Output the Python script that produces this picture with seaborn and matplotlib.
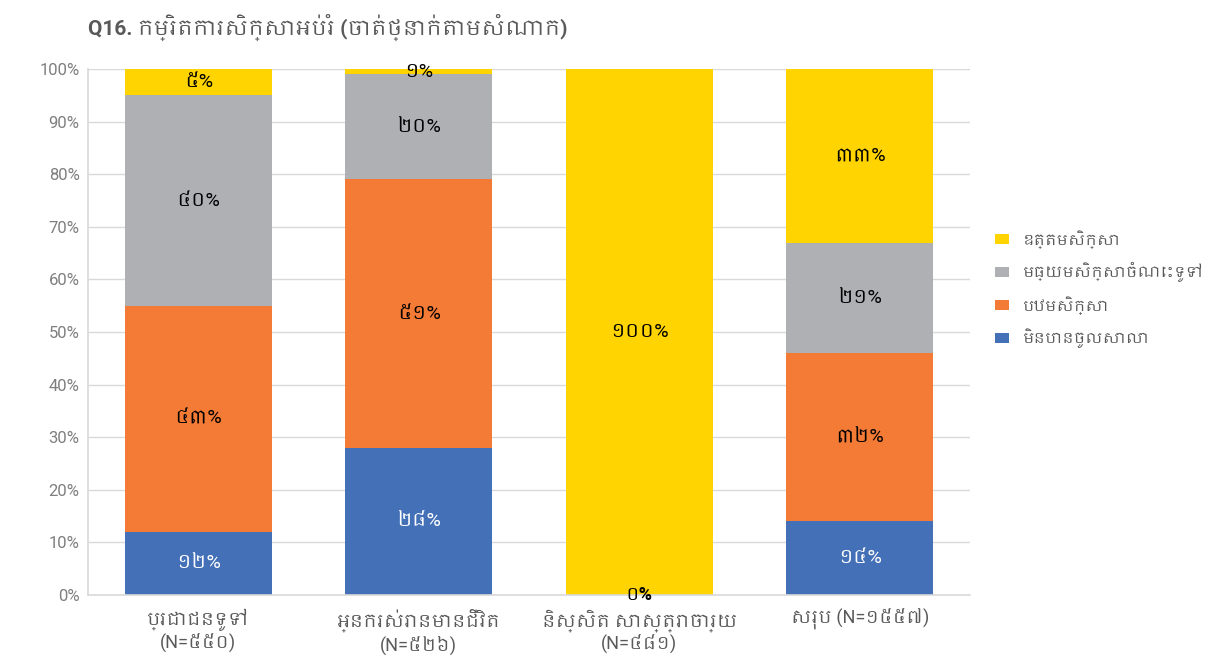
import matplotlib
matplotlib.use("Agg")
import matplotlib.pyplot as plt
from matplotlib import font_manager
from matplotlib.patches import Patch
import seaborn as sns
import pandas as pd
import numpy as np

# ---- data ----
categories = ["ប្រជាជនទូទៅ\n(N=៥៥០)", "អ្នករស់រានមានជីវិត\n(N=៥២៦)",
              "និស្សិត សាស្ត្រាចារ្យ\n(N=៤៨១)", "សរុប (N=១៥៥៧)"]
series_names = ["មិនបានចូលសាលា", "បឋមសិក្សា", "មធ្យមសិក្សាចំណេះទូទៅ", "ឧត្តមសិក្សា"]
no_school = [12, 28, 0, 14]
primary = [43, 51, 0, 32]
secondary = [40, 20, 0, 21]
higher = [5, 1, 100, 33]
colors = ["#4470B8", "#F47B35", "#AEB0B3", "#FFD400"]
label_colors = ["white", "black", "black", "black"]
yticks = [0, 10, 20, 30, 40, 50, 60, 70, 80, 90, 100]
title = "Q16. កម្រិតការសិក្សាអប់រំ (ចាត់ថ្នាក់តាមសំណាក)"

sns.set_theme(style="white")

# fonts
names = {f.name for f in font_manager.fontManager.ttflist}
khmer = [n for n in names if "khmer" in n.lower()]
latin = [n for n in ["Liberation Sans Narrow", "Roboto", "Noto Sans"] if n in names][:1]
fam = latin + sorted(khmer) + ["DejaVu Sans"]
plt.rcParams["font.family"] = fam

KH = str.maketrans("0123456789", "០១២៣៤៥៦៧៨៩")
def kh(v):
    return f"{v}".translate(KH) + "%"

series = [no_school, primary, secondary, higher]

fig = plt.figure(figsize=(12.32, 6.62), dpi=100)
ax = fig.add_axes([88/1232, 1-595/662, (970-88)/1232, (595-69)/662])

cum = np.cumsum(np.array(series), axis=0)
order = list(range(len(series)))[::-1]
for i in order:
    d = pd.DataFrame({"cat": categories, "val": cum[i]})
    sns.barplot(data=d, x="cat", y="val", color=colors[i], width=0.667,
                saturation=1, ax=ax, zorder=2, errorbar=None, linewidth=0)

# labels
for j in range(len(categories)):
    for i, s in enumerate(series):
        v = s[j]
        bottom = cum[i][j] - v
        if v == 0:
            if i == 0 and sum(col[j] for col in series[:3]) == 0:
                ax.text(j, 0, kh(0), ha="center", va="center", fontsize=13,
                        color="black", fontweight="bold", zorder=5)
            continue
        ax.text(j, bottom + v/2, kh(v), ha="center", va="center", fontsize=14,
                color=label_colors[i], zorder=5)

ax.set_ylim(0, 100)
ax.set_xlim(-0.5, 3.5)
ax.set_yticks(yticks)
ax.set_yticklabels([f"{t}%" for t in yticks], color="#7F7F7F", fontsize=12)
ax.yaxis.grid(True, color="#D9D9D9", linewidth=1, zorder=0)
ax.set_axisbelow(True)
ax.tick_params(axis="x", colors="#595959", labelsize=13, length=0, pad=10)
ax.tick_params(axis="y", length=0, pad=6)
ax.set_xlabel("")
ax.set_ylabel("")
for side in ["top", "right"]:
    ax.spines[side].set_visible(False)
ax.spines["left"].set_color("#D9D9D9")
ax.spines["bottom"].set_color("#D9D9D9")
ax.spines["bottom"].set_linewidth(1.2)

fig.text(88/1232, 1-27/662, title, fontsize=15, color="#595959",
         fontweight="bold", va="center", ha="left")

handles = [Patch(facecolor=colors[i], edgecolor="none") for i in order]
leg = fig.legend(handles, [series_names[i] for i in order],
                 loc="center left", bbox_to_anchor=(995/1232, 1-289/662),
                 frameon=False, fontsize=11, handlelength=0.9, handleheight=0.6,
                 labelspacing=0.9, handletextpad=0.9, borderaxespad=0, borderpad=0)
for t in leg.get_texts():
    t.set_color("#595959")

fig.savefig("out.png", dpi=100)
